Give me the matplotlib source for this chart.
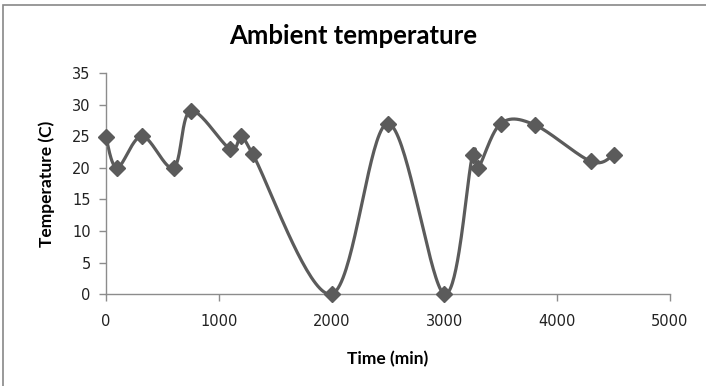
import numpy as np
import matplotlib.pyplot as plt
from matplotlib.patches import Rectangle

# Datos
tiempo = [0, 100, 320, 600, 750, 1100, 1200, 1300, 2000, 2500, 3000, 3250, 3300, 3500, 3800, 4300, 4500]
temperatura = [24.8, 20, 25, 20, 29, 23, 25, 22.2, 0, 27, 0, 22, 20, 27, 26.8, 21, 22]
x_ticks = [0, 1000, 2000, 3000, 4000, 5000]
y_ticks = [0, 5, 10, 15, 20, 25, 30, 35]

color_linea = '#5b5b5b'
color_eje = '#8c8c8c'


def suavizar(x, y, n=40):
    """Linea suavizada tipo Excel (Bezier con tangentes de Catmull-Rom)."""
    p = np.column_stack([x, y]).astype(float)
    ext = np.vstack([p[0], p, p[-1]])
    t = np.linspace(0, 1, n)[:, None]
    trozos = []
    for i in range(1, len(ext) - 2):
        p0, p1, p2, p3 = ext[i - 1], ext[i], ext[i + 1], ext[i + 2]
        c1 = p1 + (p2 - p0) / 6
        c2 = p2 - (p3 - p1) / 6
        b = ((1 - t) ** 3) * p1 + 3 * ((1 - t) ** 2) * t * c1 + 3 * (1 - t) * t ** 2 * c2 + t ** 3 * p2
        trozos.append(b)
    curva = np.vstack(trozos)
    return curva[:, 0], curva[:, 1]


fig = plt.figure(figsize=(7.06, 3.86), dpi=100)
ax = fig.add_axes([0.150, 0.238, 0.799, 0.573])

# Borde del area del grafico
fig.patches.append(Rectangle((3 / 706, -0.05), 1.2, 1 - 5 / 386 + 0.05, transform=fig.transFigure,
                             fill=False, edgecolor='#888888', linewidth=1.2))

xs, ys = suavizar(tiempo, temperatura)
ax.plot(xs, ys, color=color_linea, linewidth=2.3, solid_capstyle='round', clip_on=False)
ax.plot(tiempo, temperatura, linestyle='none', marker='D', markersize=7.8,
        color=color_linea, clip_on=False, zorder=3)

ax.set_xlim(0, 5000)
ax.set_ylim(0, 35)
ax.set_xticks(x_ticks)
ax.set_yticks(y_ticks)

for lado in ['top', 'right']:
    ax.spines[lado].set_visible(False)
for lado in ['left', 'bottom']:
    ax.spines[lado].set_color(color_eje)
    ax.spines[lado].set_linewidth(1)
ax.tick_params(direction='out', length=5, width=1, color=color_eje,
               labelsize=10.5, labelcolor='#222222')
ax.tick_params(axis='x', pad=9)
ax.tick_params(axis='y', pad=6)

ax.set_xlabel('Time (min)', fontsize=12.5, fontweight='bold', family='Lato', labelpad=16)
ax.set_ylabel('Temperature (C)', fontsize=12.5, fontweight='bold', family='Lato', labelpad=12)
fig.text(0.5, 1 - 36 / 386, 'Ambient temperature', ha='center', va='center',
         fontsize=18.5, fontweight='bold', family='Lato')

fig.savefig('out.png', dpi=100)
